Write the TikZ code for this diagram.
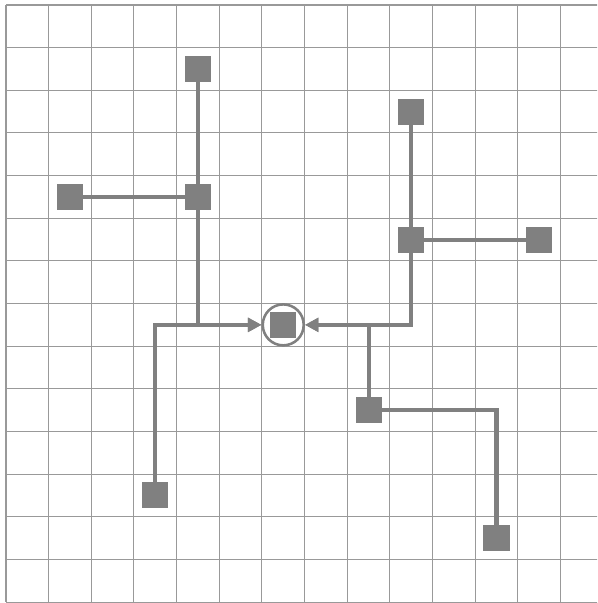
\documentclass[tikz,border=0pt]{standalone}
\usetikzlibrary{arrows.meta}
\definecolor{gridc}{HTML}{999999}
\definecolor{dark}{HTML}{808080}
\tikzset{
  sq/.style={fill=dark, draw=none, minimum size=0.61cm, inner sep=0pt, outer sep=0pt},
  ring/.style={circle, draw=dark, line width=1.7pt, minimum size=0.96cm, inner sep=0pt},
  conn/.style={draw=dark, line width=2.7pt},
  arr/.style={-{Triangle[length=9pt,width=9pt]}},
  gridline/.style={draw=gridc, line width=0.7pt}
}
\begin{document}
\begin{tikzpicture}
\useasboundingbox (-0.1407,0.117) rectangle (13.857,-14.021);
\clip (-0.1407,0.117) rectangle (13.857,-14.021);
\fill[white] (-0.1407,0.117) rectangle (13.857,-14.021);
\foreach \i in {0,...,13} \draw[gridline] (\i,0) -- (\i,-14);
\foreach \j in {0,...,14} \draw[gridline] (0,-\j) -- (13.95,-\j);
% nodes
\node[sq] (a1) at (4.5,-1.5) {};
\node[sq] (a2) at (4.5,-4.5) {};
\node[sq] (a3) at (1.5,-4.5) {};
\node[sq] (a4) at (3.5,-11.5) {};
\node[sq] (b1) at (9.5,-2.5) {};
\node[sq] (b2) at (9.5,-5.5) {};
\node[sq] (b3) at (12.5,-5.5) {};
\node[sq] (b4) at (8.5,-9.5) {};
\node[sq] (b5) at (11.5,-12.5) {};
\node[sq] (cs) at (6.5,-7.5) {};
\node[ring] (c) at (6.5,-7.5) {};
% connectors
\draw[conn] (a1) -- (a2);
\draw[conn] (a3) -- (a2);
\draw[conn,arr] (a2) |- (c.west);
\draw[conn,arr] (a4) |- (c.west);
\draw[conn] (b1) -- (b2);
\draw[conn] (b3) -- (b2);
\draw[conn,arr] (b2) |- (c.east);
\draw[conn,arr] (b4) |- (c.east);
\draw[conn] (b5) |- (b4);
\end{tikzpicture}
\end{document}
